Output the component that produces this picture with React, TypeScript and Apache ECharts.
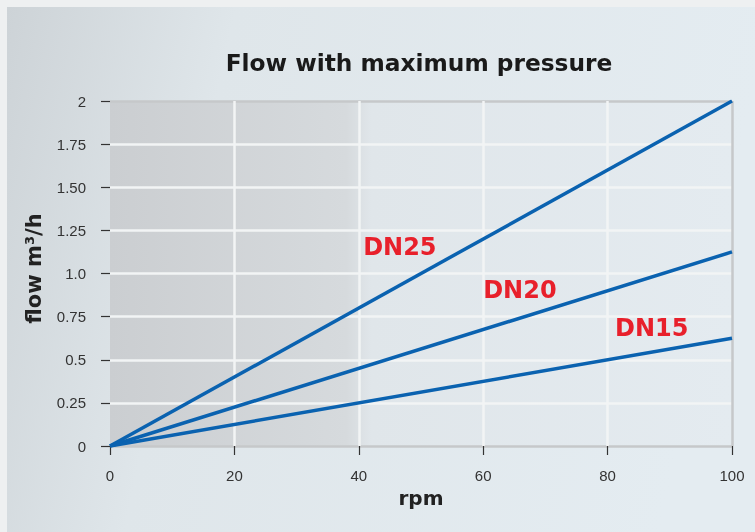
import React, { useEffect, useRef } from "react";
import * as echarts from "echarts";

const rpmTicks = [0, 20, 40, 60, 80, 100];
const flowTickLabels: Record<string, string> = {
  "0": "0", "0.25": "0.25", "0.5": "0.5", "0.75": "0.75", "1": "1.0",
  "1.25": "1.25", "1.5": "1.50", "1.75": "1.75", "2": "2",
};
const seriesNames = ["DN25", "DN20", "DN15"];
const dn25 = [[0, 0], [100, 2]];
const dn20 = [[0, 0], [100, 1.125]];
const dn15 = [[0, 0], [100, 0.625]];
const labelPos = [[46.6, 1.155], [65.9, 0.905], [87.1, 0.685]];

export default function App() {
  const ref = useRef<HTMLDivElement>(null);
  useEffect(() => {
    const chart = echarts.init(ref.current!, null, { renderer: "svg" });
    const font = "'Liberation Sans', Arial, sans-serif";
    const bold = "'DejaVu Sans', sans-serif";
    const datas = [dn25, dn20, dn15];
    chart.setOption({
      animation: false,
      graphic: [
        { type: "rect", z: -10, shape: { x: 0, y: 0, width: 755, height: 532 }, style: { fill: "#eef0f1" }, silent: true },
        {
          type: "rect", z: -9, shape: { x: 7, y: 7, width: 748, height: 525 }, silent: true,
          style: {
            fill: new echarts.graphic.LinearGradient(0, 0, 1, 0.15, [
              { offset: 0, color: "#cdd3d7" },
              { offset: 0.3, color: "#dfe6ea" },
              { offset: 1, color: "#e4ecf1" },
            ]),
          },
        },
      ],
      title: {
        text: "Flow with maximum pressure",
        left: 414, top: 46, textAlign: "center",
        textStyle: { fontFamily: bold, fontWeight: "bold", fontSize: 23.3, color: "#1a1a1a" },
      },
      grid: {
        left: 110, right: 23, top: 101, bottom: 86, show: true, borderWidth: 0,
        backgroundColor: new echarts.graphic.LinearGradient(0, 0, 1, 0, [
          { offset: 0, color: "#cbced1" },
          { offset: 0.38, color: "#d6dadd" },
          { offset: 0.42, color: "#e0e6ea" },
          { offset: 1, color: "#e4ebf0" },
        ]),
      },
      xAxis: {
        type: "value", min: 0, max: 100, interval: 20,
        name: "rpm", nameLocation: "middle", nameGap: 41,
        nameTextStyle: { fontFamily: bold, fontWeight: "bold", fontSize: 20, color: "#222" },
        axisLine: { show: false },
        axisTick: { show: true, length: 9, lineStyle: { color: "#333", width: 1.2 } },
        axisLabel: { fontFamily: font, fontSize: 15, color: "#333", margin: 22 },
        splitLine: {
          show: true,
          lineStyle: { width: 2.5, color: ["rgba(0,0,0,0)", "#f2f4f5", "#f2f4f5", "#f2f4f5", "#f2f4f5", "#c6c8ca"] },
        },
      },
      yAxis: {
        type: "value", min: 0, max: 2, interval: 0.25,
        name: "flow m³/h", nameLocation: "middle", nameGap: 66, nameRotate: 90,
        nameTextStyle: { fontFamily: bold, fontWeight: "bold", fontSize: 21, color: "#222", padding: [0, 0, 0, 10] },
        axisLine: { show: false },
        axisTick: { show: true, length: 9, lineStyle: { color: "#333", width: 1.2 } },
        axisLabel: {
          fontFamily: font, fontSize: 15, color: "#333", margin: 24,
          formatter: (v: number) => flowTickLabels[String(v)] ?? String(v),
        },
        splitLine: {
          show: true,
          lineStyle: { width: 2.5, color: ["#c6c8ca", "#f2f4f5", "#f2f4f5", "#f2f4f5", "#f2f4f5", "#f2f4f5", "#f2f4f5", "#f2f4f5", "#c6c8ca"] },
        },
      },
      series: seriesNames.map((name, i) => ({
        name, type: "line", data: datas[i], symbol: "none", z: 5,
        lineStyle: { color: "#0a62b0", width: 3.5 },
        markPoint: {
          symbol: "circle", symbolSize: 0,
          data: [{ coord: labelPos[i], value: name }],
          label: {
            show: true, position: "inside", formatter: name,
            fontFamily: bold, fontWeight: "bold", fontSize: 24, color: "#e8202b",
          },
        },
      })),
    });
    return () => chart.dispose();
  }, []);
  return <div ref={ref} style={{ position: "fixed", left: 0, top: 0, width: 755, height: 532 }} />;
}
